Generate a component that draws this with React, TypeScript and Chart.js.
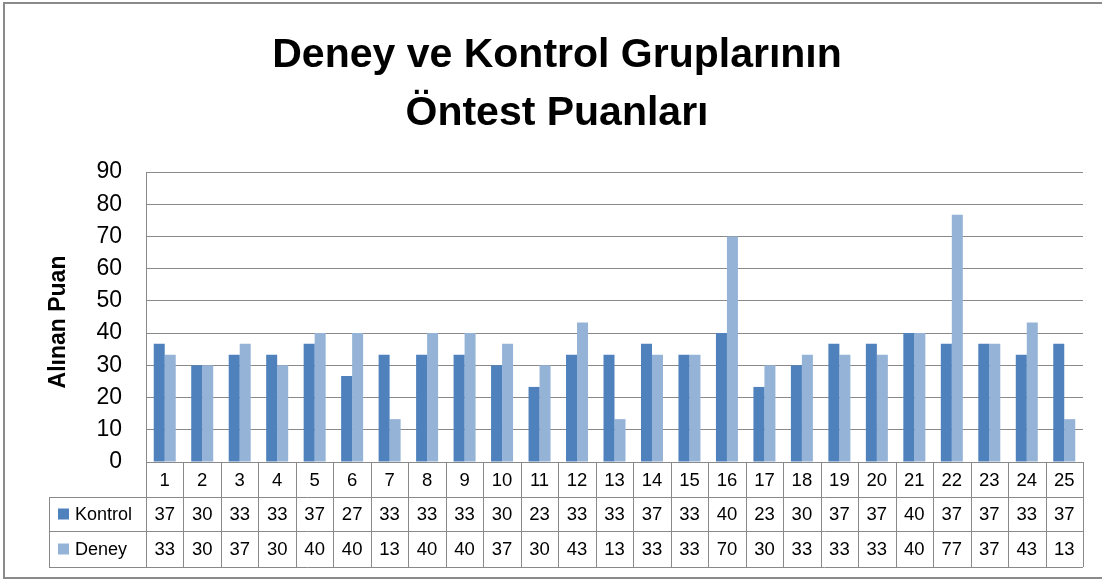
import React, { useEffect, useRef } from "react";
import { Chart, registerables } from "chart.js";

Chart.register(...registerables);

const titleLines = ["Deney ve Kontrol Gruplarının", "Öntest Puanları"];
const yAxisTitle = "Alınan Puan";
const categories = ["1","2","3","4","5","6","7","8","9","10","11","12","13","14","15","16","17","18","19","20","21","22","23","24","25"];
const kontrol = [36.7,30,33.3,33.3,36.7,26.7,33.3,33.3,33.3,30,23.3,33.3,33.3,36.7,33.3,40,23.3,30,36.7,36.7,40,36.7,36.7,33.3,36.7];
const deney = [33.3,30,36.7,30,40,40,13.3,40,40,36.7,30,43.3,13.3,33.3,33.3,70,30,33.3,33.3,33.3,40,76.7,36.7,43.3,13.3];
const seriesNames = ["Kontrol", "Deney"];
const seriesColors = ["#4F81BD", "#95B3D7"];

const FONT = "'Liberation Sans', Arial, sans-serif";
const LINE = "#898989";

const decorPlugin = {
  id: "decor",
  afterDraw(chart: any) {
    const ctx = chart.ctx as CanvasRenderingContext2D;
    const area = chart.chartArea;
    const n = categories.length;
    const catW = (area.right - area.left) / n;
    ctx.save();

    // frame
    ctx.strokeStyle = "#8a8a8a";
    ctx.lineWidth = 2;
    ctx.strokeRect(4, 3, 1120, 575);

    // title
    ctx.fillStyle = "#000";
    ctx.font = `bold 41px ${FONT}`;
    ctx.textAlign = "center";
    ctx.textBaseline = "alphabetic";
    ctx.fillText(titleLines[0], 557, 67);
    ctx.fillText(titleLines[1], 557, 125);

    // y axis title
    ctx.save();
    ctx.translate(64.5, 322);
    ctx.rotate(-Math.PI / 2);
    ctx.font = `bold 23px ${FONT}`;
    ctx.textAlign = "center";
    ctx.textBaseline = "alphabetic";
    ctx.fillText(yAxisTitle, 0, 0);
    ctx.restore();

    // data table
    const r0 = area.bottom;
    const r1 = r0 + 35;
    const r2 = r1 + 34;
    const r3 = r2 + 36;
    const tableLeft = 49;
    ctx.strokeStyle = LINE;
    ctx.lineWidth = 1;
    ctx.beginPath();
    [r1, r2, r3].forEach((y) => {
      ctx.moveTo(tableLeft, Math.round(y) + 0.5);
      ctx.lineTo(area.right, Math.round(y) + 0.5);
    });
    for (let i = 0; i <= n; i++) {
      const x = Math.round(area.left + i * catW) + 0.5;
      ctx.moveTo(x, r0);
      ctx.lineTo(x, r3);
    }
    ctx.moveTo(tableLeft + 0.5, r1);
    ctx.lineTo(tableLeft + 0.5, r3);
    ctx.stroke();

    ctx.fillStyle = "#000";
    ctx.font = `18.5px ${FONT}`;
    ctx.textAlign = "center";
    ctx.textBaseline = "middle";
    const xs = chart.scales.x;
    categories.forEach((c, i) => {
      const cx = xs.getPixelForValue(i);
      ctx.fillText(c, cx, (r0 + r1) / 2 + 1);
      ctx.fillText(String(Math.round(kontrol[i])), cx, (r1 + r2) / 2 + 1);
      ctx.fillText(String(Math.round(deney[i])), cx, (r2 + r3) / 2 + 1);
    });

    // legend keys in table
    const rowsMid = [(r1 + r2) / 2, (r2 + r3) / 2];
    ctx.textAlign = "left";
    seriesNames.forEach((name, k) => {
      ctx.fillStyle = seriesColors[k];
      ctx.fillRect(58, rowsMid[k] - 5.5, 11, 11);
      ctx.fillStyle = "#000";
      ctx.font = `18px ${FONT}`;
      ctx.fillText(name, 75, rowsMid[k] + 1);
    });

    ctx.restore();
  },
};

export default function App() {
  const ref = useRef<HTMLCanvasElement | null>(null);
  useEffect(() => {
    if (!ref.current) return;
    const chart = new Chart(ref.current, {
      type: "bar",
      data: {
        labels: categories,
        datasets: [
          { label: seriesNames[0], data: kontrol, backgroundColor: seriesColors[0] },
          { label: seriesNames[1], data: deney, backgroundColor: seriesColors[1] },
        ],
      },
      options: {
        animation: false,
        responsive: false,
        devicePixelRatio: 1,
        layout: { padding: { left: 0, right: 19, top: 172, bottom: 119 } },
        plugins: { legend: { display: false }, title: { display: false }, tooltip: { enabled: false } },
        datasets: { bar: { categoryPercentage: 0.587, barPercentage: 1 } },
        scales: {
          x: {
            grid: { display: false, drawTicks: false },
            border: { display: false },
            ticks: { display: false },
            afterFit: (s: any) => { s.height = 0; },
          },
          y: {
            min: 0,
            max: 90,
            ticks: { stepSize: 10, padding: 24, color: "#000", font: { family: FONT, size: 23 } },
            grid: { color: LINE, drawTicks: false, lineWidth: 1 },
            border: { color: LINE },
            afterFit: (s: any) => { s.width = 146; },
          },
        },
      },
      plugins: [decorPlugin],
    } as any);
    return () => chart.destroy();
  }, []);
  return (
    <div style={{ position: "fixed", left: 0, top: 0, width: 1102, height: 581, background: "#fff" }}>
      <canvas ref={ref} width={1102} height={581} style={{ width: 1102, height: 581, display: "block" }} />
    </div>
  );
}
